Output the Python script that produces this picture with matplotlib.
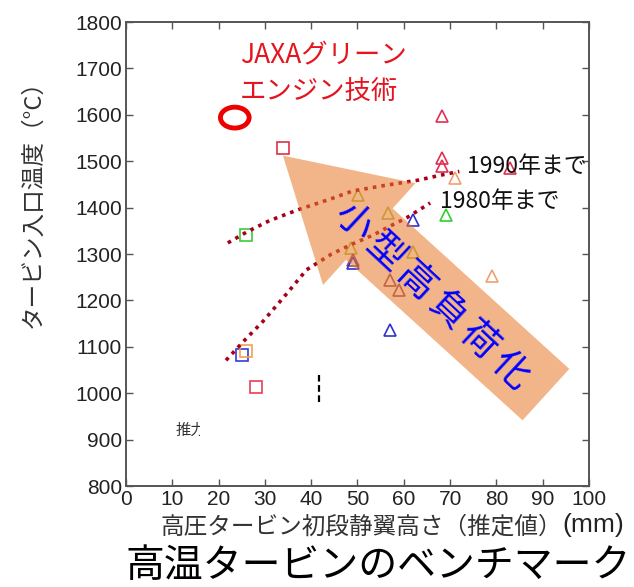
import numpy as np
import matplotlib
matplotlib.use("Agg")
import matplotlib.pyplot as plt
from matplotlib.patches import Ellipse, Rectangle

plt.rcParams['font.family'] = ['Liberation Sans', 'Noto Sans CJK JP', 'DejaVu Sans']
JP = ['Noto Sans CJK JP', 'DejaVu Sans']

# square markers: blade height (mm), turbine inlet temperature (degC)
sq_x = [34, 26, 25, 26, 28]
sq_y = [1529, 1341, 1082, 1091, 1014]
sq_colors = ['#E0304A', '#3CCB3C', '#3A3AD8', '#F2A050', '#E8405A']

# triangle markers
tri_x = [68.2, 68.2, 68.2, 71.1, 82.9, 50.2, 69.1, 62.0, 56.6, 62.0,
         48.7, 49.1, 49.1, 57.0, 59.0, 79.1, 57.0]
tri_y = [1597, 1507, 1489, 1464, 1486, 1428, 1385, 1374, 1388, 1305,
         1313, 1287, 1280, 1244, 1223, 1253, 1136]
tri_colors = ['#E03050', '#E03050', '#E03050', '#F0A070', '#E03050',
              '#A8C040', '#30D030', '#3030D0', '#A8C040', '#A8C040',
              '#A8C040', '#9A4A70', '#3030D0', '#9A4A70', '#9A4A70',
              '#F0A070', '#3030D0']

# trend curves
trend90_x = [22, 26, 31, 37.6, 44, 49, 56, 63, 68, 72]
trend90_y = [1324, 1347, 1372, 1397, 1418, 1436, 1448, 1459, 1470, 1478]
trend80_x = [21.6, 25.5, 29.6, 34.5, 39, 44.4, 49, 53.4, 57, 60.6, 65.7]
trend80_y = [1071, 1113, 1155, 1212, 1266, 1300, 1322, 1341, 1360, 1378, 1410]

# JAXA target
jaxa_x, jaxa_y = 23.5, 1594

fig = plt.figure(figsize=(6.34, 5.87), dpi=100)
ax = fig.add_axes([0.1987, 0.172, 0.7303, 0.7905])

for x, y, c in zip(sq_x, sq_y, sq_colors):
    ax.plot(x, y, marker='s', ms=9, mfc='none', mec=c, mew=1.2, zorder=2)
for x, y, c in zip(tri_x, tri_y, tri_colors):
    ax.plot(x, y, marker='^', ms=9, mfc='none', mec=c, mew=1.2, zorder=2)

ax.plot(trend90_x, trend90_y, color='#A8001C', lw=2.6,
        linestyle=(0, (1, 1.4)), zorder=3)
ax.plot(trend80_x, trend80_y, color='#A8001C', lw=2.6,
        linestyle=(0, (1, 1.4)), zorder=3)

ax.add_patch(Ellipse((jaxa_x, jaxa_y), 6.2, 45, fill=False,
                     ec='#EE0000', lw=3.5, zorder=4))

ax.plot([41.7, 41.7], [981, 1039], color='k', lw=1.6,
        linestyle=(0, (3, 1.6)), zorder=2)

# cut-off note in the lower left
ax.text(10.8, 920, '推力', fontsize=11, family=JP, va='center', ha='left',
        color='#333333', zorder=2)
ax.add_patch(Rectangle((15.9, 895), 4, 50, fc='white', ec='none', zorder=2.5))

# big arrow
ax.annotate('', xy=(33.9, 1512), xytext=(90.7, 997),
            arrowprops=dict(arrowstyle='simple,head_length=0.84,head_width=0.99,tail_width=0.5',
                            mutation_scale=100, fc='#E97828', ec='none',
                            alpha=0.55, shrinkA=0, shrinkB=0),
            zorder=5)

label = '小型高負荷化'
ang = 43
step = 31
for k, ch in enumerate(label):
    d = (k - (len(label) - 1) / 2) * step
    ax.annotate(ch, xy=(66.0, 1208), xytext=(d * np.cos(np.radians(ang)),
                                              -d * np.sin(np.radians(ang))),
                textcoords='offset points', rotation=-ang, rotation_mode='anchor',
                ha='center', va='center', fontsize=27, color='#0000FF',
                family=JP, zorder=6)

ax.text(24.6, 1688, 'JAXAグリーン\nエンジン技術', fontsize=19, family=JP,
        color='#E5141E', va='center', ha='left', linespacing=1.4, zorder=6)
ax.text(73.6, 1489, '1990年まで', fontsize=16.5, family=JP, color='#111111',
        va='center', ha='left', zorder=6)
ax.text(67.9, 1413, '1980年まで', fontsize=16.5, family=JP, color='#111111',
        va='center', ha='left', zorder=6)

ax.set_xlim(0, 100)
ax.set_ylim(800, 1800)
ax.set_xticks(np.arange(0, 101, 10))
ax.set_yticks(np.arange(800, 1801, 100))
ax.tick_params(direction='in', length=5, width=1, top=True, right=True,
               labelsize=15, colors='#555555', labelcolor='#222222', pad=3)
for s in ax.spines.values():
    s.set_color('#555555')
    s.set_linewidth(1.4)

ax.set_ylabel('タービン入口温度（°C）', fontsize=17, family=JP, color='#333333')
ax.yaxis.set_label_coords(-0.175, 0.621)

fig.text(562 / 634, 1 - 527 / 587, '高圧タービン初段静翼高さ（推定値）',
         fontsize=17, family=JP, color='#333333', ha='right', va='center')
fig.text(562 / 634, 1 - 525 / 587, '(mm)', fontsize=19, color='#222222',
         ha='left', va='center')
fig.text(378 / 634, 1 - 566 / 587, '高温タービンのベンチマーク', fontsize=28,
         family=JP, color='black', ha='center', va='center')

fig.savefig('out.png', dpi=100)
